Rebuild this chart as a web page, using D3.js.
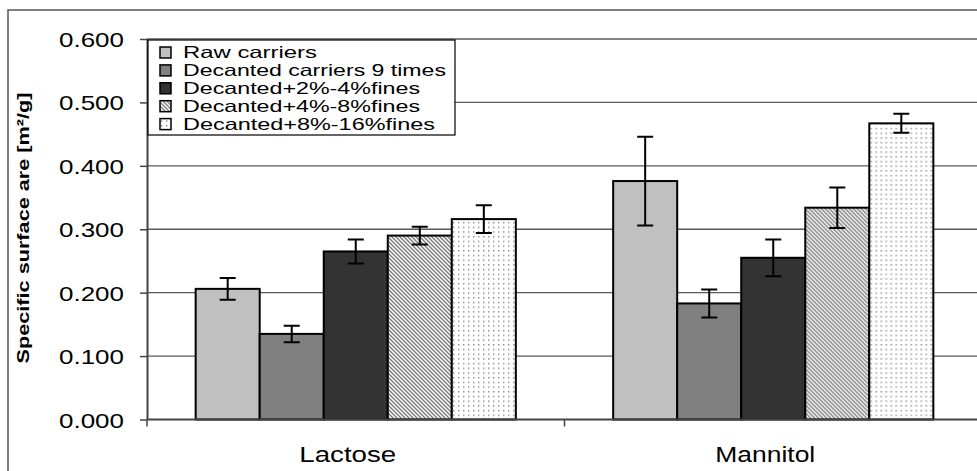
<!DOCTYPE html>
<html><head><meta charset="utf-8">
<script src="https://cdn.jsdelivr.net/npm/d3@7/dist/d3.min.js"></script>
<style>body{margin:0;background:#fff}svg{display:block}</style>
</head><body>
<svg id="c" width="977" height="471"></svg>
<script>
const categories = ["Lactose", "Mannitol"];
const seriesNames = ["Raw carriers", "Decanted carriers 9 times", "Decanted+2%-4%fines", "Decanted+4%-8%fines", "Decanted+8%-16%fines"];
const lactoseValues = [0.206, 0.135, 0.265, 0.290, 0.316];
const lactoseErrors = [0.017, 0.013, 0.019, 0.014, 0.022];
const mannitolValues = [0.376, 0.183, 0.255, 0.334, 0.467];
const mannitolErrors = [0.070, 0.022, 0.029, 0.032, 0.015];
const yTicks = [0, 0.1, 0.2, 0.3, 0.4, 0.5, 0.6];
const yTitle = "Specific surface are [m²/g]";

const valuesByCat = {Lactose: lactoseValues, Mannitol: mannitolValues};
const errorsByCat = {Lactose: lactoseErrors, Mannitol: mannitolErrors};

const svg = d3.select("#c");
const font = "'Liberation Sans', Arial, sans-serif";
const plotLeft = 147, plotRight = 982, plotTop = 39, plotBottom = 419.5;

const y = d3.scaleLinear().domain([0, 0.6]).range([plotBottom, plotTop]);
const x0 = d3.scaleBand().domain(categories).range([plotLeft, plotRight]).paddingInner(0).paddingOuter(0);
const x1 = d3.scaleBand().domain(seriesNames).range([0, x0.bandwidth()]).paddingInner(0).paddingOuter(0.76);

// patterns
const defs = svg.append("defs");
const hatch = defs.append("pattern").attr("id", "hatch").attr("patternUnits", "userSpaceOnUse")
  .attr("width", 4).attr("height", 4);
hatch.append("rect").attr("width", 4).attr("height", 4).attr("fill", "#fff");
hatch.append("path").attr("d", "M-1,-1 L5,5 M-1,3 L1,5 M3,-1 L5,1").attr("stroke", "#777").attr("stroke-width", 1.3);
const dots = defs.append("pattern").attr("id", "dots").attr("patternUnits", "userSpaceOnUse")
  .attr("width", 5).attr("height", 4.7);
dots.append("rect").attr("width", 5).attr("height", 4.7).attr("fill", "#fff");
dots.append("rect").attr("x", 1).attr("y", 1).attr("width", 1.4).attr("height", 1.4).attr("fill", "#888");

const fills = ["#c0c0c0", "#808080", "#333333", "url(#hatch)", "url(#dots)"];
const color = d3.scaleOrdinal().domain(seriesNames).range(fills);

// outer frame (top & left)
svg.append("path").attr("d", "M8,471 L8,10 L977,10").attr("fill", "none").attr("stroke", "#555").attr("stroke-width", 1.5);

// gridlines
svg.append("g").selectAll("line").data(yTicks.filter(d => d > 0)).join("line")
  .attr("x1", plotLeft).attr("x2", 977).attr("y1", d => y(d)).attr("y2", d => y(d))
  .attr("stroke", "#5a5a5a").attr("stroke-width", 1.3);

// y axis
const yAxis = svg.append("g").attr("transform", `translate(${plotLeft},0)`)
  .call(d3.axisLeft(y).tickValues(yTicks).tickFormat(d3.format(".3f")).tickSizeOuter(0).tickSizeInner(7).tickPadding(16));
yAxis.select(".domain").attr("stroke", "#444").attr("stroke-width", 2);
yAxis.selectAll(".tick line").attr("stroke", "#444").attr("stroke-width", 1.5);
yAxis.selectAll(".tick text").attr("font-family", font).attr("font-size", 21).attr("fill", "#000")
  .attr("textLength", 65).attr("lengthAdjust", "spacingAndGlyphs").attr("dy", "0.36em");

// bars
const groups = svg.append("g").selectAll("g").data(categories).join("g")
  .attr("transform", d => `translate(${x0(d)},0)`);
groups.selectAll("rect").data(c => seriesNames.map((s, i) => ({s, v: valuesByCat[c][i], e: errorsByCat[c][i]}))).join("rect")
  .attr("x", d => x1(d.s)).attr("width", x1.bandwidth())
  .attr("y", d => y(d.v)).attr("height", d => y(0) - y(d.v))
  .attr("fill", d => color(d.s)).attr("stroke", "#000").attr("stroke-width", 2);

// error bars
const cap = 8;
groups.selectAll("path.err").data(c => seriesNames.map((s, i) => ({s, v: valuesByCat[c][i], e: errorsByCat[c][i]}))).join("path")
  .attr("class", "err")
  .attr("d", d => {
    const cx = x1(d.s) + x1.bandwidth() / 2, hi = y(d.v + d.e), lo = y(d.v - d.e);
    return `M${cx},${hi}L${cx},${lo}M${cx - cap},${hi}L${cx + cap},${hi}M${cx - cap},${lo}L${cx + cap},${lo}`;
  })
  .attr("fill", "none").attr("stroke", "#000").attr("stroke-width", 2);

// x axis
svg.append("line").attr("x1", plotLeft).attr("x2", 977).attr("y1", y(0)).attr("y2", y(0))
  .attr("stroke", "#444").attr("stroke-width", 2);
const xBounds = [plotLeft, x0(categories[1])];
svg.append("g").selectAll("line").data(xBounds).join("line")
  .attr("x1", d => d).attr("x2", d => d).attr("y1", y(0)).attr("y2", y(0) + 7)
  .attr("stroke", "#444").attr("stroke-width", 1.5);
const catWidths = {Lactose: 97, Mannitol: 100};
svg.append("g").selectAll("text").data(categories).join("text")
  .attr("x", d => x0(d) + x0.bandwidth() / 2 - 8).attr("y", 462)
  .attr("text-anchor", "middle").attr("font-family", font).attr("font-size", 22).attr("fill", "#000")
  .attr("textLength", d => catWidths[d]).attr("lengthAdjust", "spacingAndGlyphs")
  .text(d => d);

// y title
svg.append("text").attr("transform", "translate(29,228) rotate(-90)")
  .attr("text-anchor", "middle").attr("font-family", font).attr("font-size", 17).attr("font-weight", "bold")
  .attr("textLength", 271).attr("lengthAdjust", "spacingAndGlyphs")
  .text(yTitle);

// legend
const lg = svg.append("g");
lg.append("rect").attr("x", 148).attr("y", 40).attr("width", 307).attr("height", 95)
  .attr("fill", "#fff").attr("stroke", "#000").attr("stroke-width", 1.2);
const legendWidths = [134, 263, 237, 237, 252];
const items = lg.selectAll("g").data(seriesNames).join("g")
  .attr("transform", (d, i) => `translate(160,${52.5 + i * 17.9})`);
items.append("rect").attr("x", 0).attr("y", -5.5).attr("width", 11).attr("height", 11)
  .attr("fill", d => color(d)).attr("stroke", "#000").attr("stroke-width", 1.5);
items.append("text").attr("x", 23).attr("y", 0).attr("dy", "0.36em")
  .attr("font-family", font).attr("font-size", 16.5).attr("fill", "#000")
  .attr("textLength", (d, i) => legendWidths[i]).attr("lengthAdjust", "spacingAndGlyphs")
  .text(d => d);
</script>
</body></html>
